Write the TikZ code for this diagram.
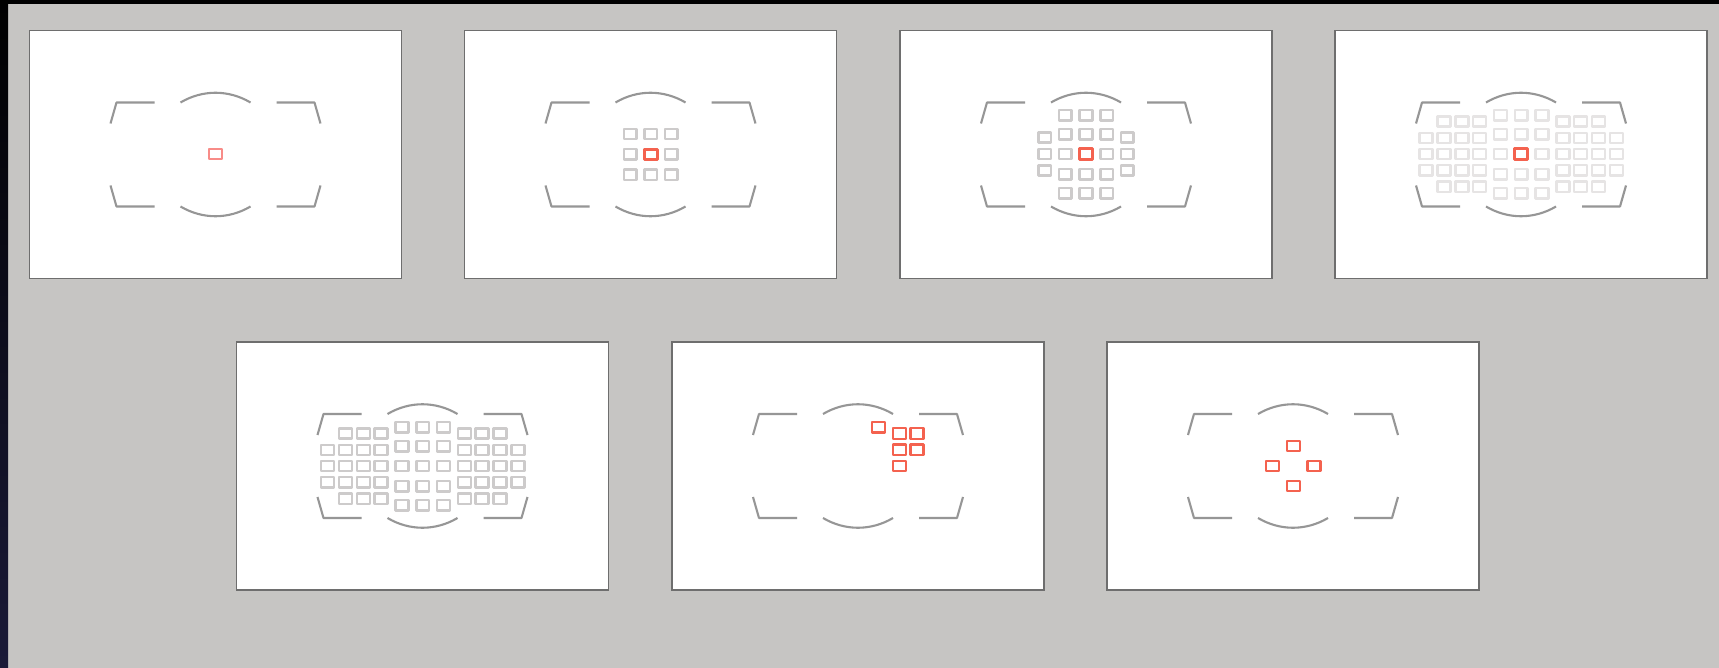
\documentclass[tikz,border=0pt]{standalone}
\usepackage{amsmath,amssymb}

\definecolor{wallgrey}{HTML}{C6C5C3}
\definecolor{edgegrey}{HTML}{6E6E6E}
\definecolor{markgrey}{HTML}{969696}
\definecolor{cellgrey}{HTML}{CDCBCB}
\definecolor{palegrey}{HTML}{E6E4E4}
\definecolor{afred}{HTML}{F4624F}
\definecolor{softred}{HTML}{F88C88}
\definecolor{edgenavy}{HTML}{1A1A38}

\tikzset{
  viewpanel/.style={draw=edgegrey, fill=white, line width=0.9pt},
  markline/.style={draw=markgrey, line width=1.05pt, line join=round},
}

\begin{document}
\begin{tikzpicture}[x=0.5pt, y=-0.5pt]

% Page
\useasboundingbox (0,0) rectangle (1719,668);
\fill[wallgrey] (0,0) rectangle (1719,668);

% Dark edges
\fill[black] (0,0) rectangle (1719,4.5);
\shade[top color=black, bottom color=edgenavy] (0,0) rectangle (8,668);

% Parameters
\def\pw{186}      % half width of a panel
\def\ph{124}      % half height of a panel

% One panel with its marks, centre at (#1,#2)
\def\viewfinder#1#2{
  \draw[viewpanel] ({#1-\pw},{#2-\ph}) rectangle ({#1+\pw},{#2+\ph});
  \begin{scope}[shift={(#1,#2)}]
    \draw[markline] (-105,-31) -- (-99,-52) -- (-61,-52);
    \draw[markline] (105,-31) -- (99,-52) -- (61,-52);
    \draw[markline] (-105,31) -- (-99,52) -- (-61,52);
    \draw[markline] (105,31) -- (99,52) -- (61,52);
    \draw[markline] (-35,-52) .. controls (-13,-65) and (13,-65) .. (35,-52);
    \draw[markline] (-35,52) .. controls (-13,65) and (13,65) .. (35,52);
  \end{scope}
}

% One focus cell: colour, width of its line in pt, x, y
\def\afcell#1#2#3#4{
  \draw[#1, line width=#2pt, line join=round] ({#3-6.4},{#4-5.2}) rectangle ({#3+6.4},{#4+5.2});
}

% The cells round a centre, without the middle one
\def\fullgrid#1#2#3{
  \begin{scope}[shift={(#2,#3)}]
    \foreach \cy in {-38.7,-19.7,20.3,39.3} {
      \foreach \cx in {-20.7,0,20.7} {\afcell{#1}{1.25}{\cx}{\cy}}
    }
    \foreach \cx in {-20.7,20.7} {\afcell{#1}{1.25}{\cx}{0}}
    \foreach \cx in {-77.3,-59.3,-41.7,41.7,59.3,77.3} {
      \foreach \cy in {-32.5,-16,0,16.3,32.7} {\afcell{#1}{1.25}{\cx}{\cy}}
    }
    \foreach \cx in {-95.3,95.3} {
      \foreach \cy in {-16,0,16.3} {\afcell{#1}{1.25}{\cx}{\cy}}
    }
  \end{scope}
}

% Top row
\viewfinder{215.5}{154.5}
\viewfinder{650.5}{154.5}
\viewfinder{1086}{154.5}
\viewfinder{1521}{154.5}

% Bottom row
\viewfinder{422.5}{466}
\viewfinder{858}{466}
\viewfinder{1293}{466}

% Panel 1: single cell
\afcell{softred}{1.25}{215.5}{154}

% Panel 2: nine cells
\foreach \cx in {-20.5,0,20.5} {
  \foreach \cy in {-20.3,0,20.3} {
    \afcell{cellgrey}{1.25}{650.7+\cx}{154.3+\cy}
  }
}
\afcell{afred}{1.5}{650.7}{154.3}

% Panel 3: twentyone cells
\foreach \cy in {-38.7,-19.7,20.3,39.3} {
  \foreach \cx in {-20.7,0,20.7} {\afcell{cellgrey}{1.25}{1086+\cx}{154+\cy}}
}
\foreach \cx in {-41.3,-20.7,20.7,41.3} {\afcell{cellgrey}{1.25}{1086+\cx}{154}}
\foreach \cx in {-41.3,41.3} {
  \foreach \cy in {-16.5,16.5} {\afcell{cellgrey}{1.25}{1086+\cx}{154+\cy}}
}
\afcell{afred}{1.5}{1086}{154}

% Panel 4: pale cells
\fullgrid{palegrey}{1521.3}{154}
\afcell{afred}{1.5}{1521.3}{154}

% Panel 5: all cells grey
\fullgrid{cellgrey}{422.7}{466}
\afcell{cellgrey}{1.25}{422.7}{466}

% Panel 6: group of six
\foreach \cx/\cy in {20.7/-38.7, 41.7/-32.5, 59/-32.5, 41.7/-16.3, 59/-16.3, 41.7/0} {
  \afcell{afred}{1.15}{858+\cx}{466+\cy}
}

% Panel 7: four cells
\foreach \cx/\cy in {0/-20, -20.7/0, 20.7/0, 0/20} {
  \afcell{afred}{1.15}{1293.3+\cx}{466+\cy}
}

\end{tikzpicture}
\end{document}
